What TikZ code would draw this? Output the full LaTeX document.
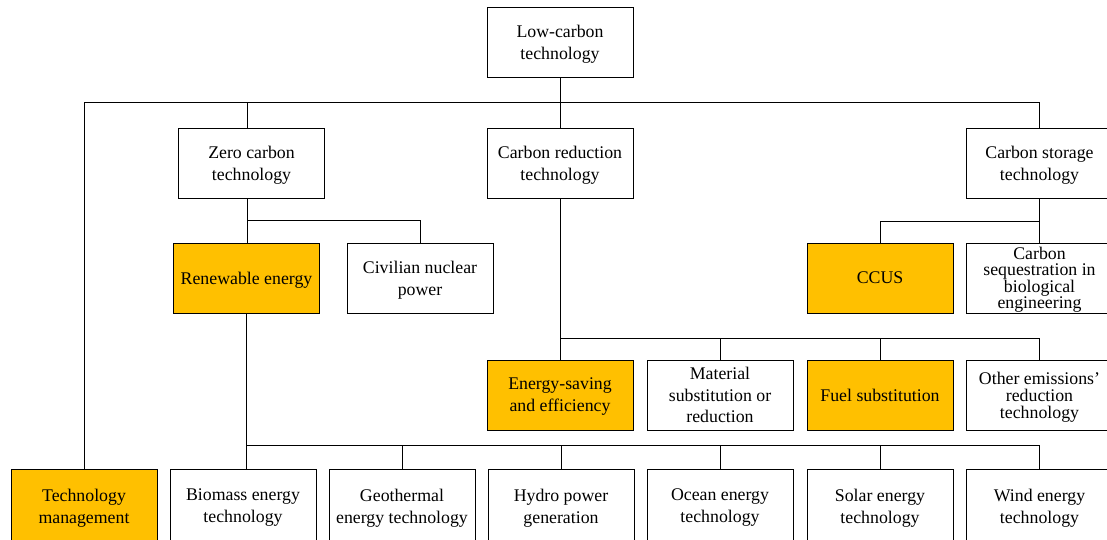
\documentclass[tikz,border=0pt]{standalone}
\usepackage{fontspec}
\setmainfont{Liberation Serif}
\definecolor{boxorange}{HTML}{FFC000}
\begin{document}
\begin{tikzpicture}[x=1pt,y=-1pt,
  box/.style={draw=black, line width=0.8pt, minimum width=146pt, minimum height=70pt,
    align=center, inner sep=0pt, text depth=0pt, font=\fontsize{17.8}{22}\selectfont},
  hot/.style={box, fill=boxorange},
  tall/.style={minimum height=74pt},
  tight/.style={font=\fontsize{17.8}{17}\selectfont},
  tighter/.style={font=\fontsize{17.8}{16}\selectfont},
  mid/.style={font=\fontsize{17.8}{21.5}\selectfont},
  link/.style={draw=black, line width=0.8pt}]
\useasboundingbox (0,0) rectangle (1107,539);
% level 0
\node[box] (top) at (560,42) {Low-carbon\\technology};
% level 1
\node[box] (zero) at (251.5,163) {Zero carbon\\technology};
\node[box] (cr) at (560,163) {Carbon reduction\\technology};
\node[box] (cs) at (1039.5,163) {Carbon storage\\technology};
% level 2
\node[hot] (ren) at (246.5,278) {Renewable energy};
\node[box] (civ) at (420,278) {Civilian nuclear\\power};
\node[hot] (ccus) at (880,278) {CCUS};
\node[box,tighter] (seq) at (1039.5,278) {Carbon\\sequestration in\\biological\\engineering};
% level 3
\node[hot] (es) at (560,395) {Energy-saving\\and efficiency};
\node[box,mid] (mat) at (720,395) {Material\\substitution or\\reduction};
\node[hot] (fuel) at (880,395) {Fuel substitution};
\node[box,tight] (oth) at (1039.5,395) {Other emissions’\\reduction\\technology};
% level 4
\node[hot,tall] (tm) at (84,506) {Technology\\management};
\node[box,tall] (bio) at (243,506) {Biomass energy\\technology};
\node[box,tall] (geo) at (402,506) {Geothermal\\energy technology};
\node[box,tall] (hyd) at (561,506) {Hydro power\\generation};
\node[box,tall] (oce) at (720,506) {Ocean energy\\technology};
\node[box,tall] (sol) at (880,506) {Solar energy\\technology};
\node[box,tall] (wind) at (1039.5,506) {Wind energy\\technology};
% junction coordinates
\coordinate (h1) at (0,102);
\coordinate (zc) at (247,0);
\coordinate (h2) at (0,220);
\coordinate (h3) at (0,221);
\coordinate (h4) at (0,338);
\coordinate (h5) at (0,445);
% top level
\draw[link] (top.south) -- (top.south |- h1);
\draw[link] (tm.north |- h1) -- (cs.north |- h1);
\draw[link] (tm.north |- h1) -- (tm.north);
\draw[link] (zc |- h1) -- (zc |- zero.north);
\draw[link] (cr.north |- h1) -- (cr.north);
\draw[link] (cs.north |- h1) -- (cs.north);
% zero carbon
\draw[link] (zc |- zero.south) -- (zc |- ren.north);
\draw[link] (zc |- h2) -- (civ.north |- h2) -- (civ.north);
% carbon storage
\draw[link] (cs.south) -- (cs.south |- h3);
\draw[link] (ccus.north |- h3) -- (seq.north |- h3);
\draw[link] (ccus.north |- h3) -- (ccus.north);
\draw[link] (seq.north |- h3) -- (seq.north);
% carbon reduction
\draw[link] (cr.south) -- (es.north);
\draw[link] (es.north |- h4) -- (oth.north |- h4);
\draw[link] (mat.north |- h4) -- (mat.north);
\draw[link] (fuel.north |- h4) -- (fuel.north);
\draw[link] (oth.north |- h4) -- (oth.north);
% renewable
\draw[link] (ren.south) -- (ren.south |- bio.north);
\draw[link] (ren.south |- h5) -- (wind.north |- h5);
\draw[link] (geo.north |- h5) -- (geo.north);
\draw[link] (hyd.north |- h5) -- (hyd.north);
\draw[link] (oce.north |- h5) -- (oce.north);
\draw[link] (sol.north |- h5) -- (sol.north);
\draw[link] (wind.north |- h5) -- (wind.north);
\end{tikzpicture}
\end{document}
